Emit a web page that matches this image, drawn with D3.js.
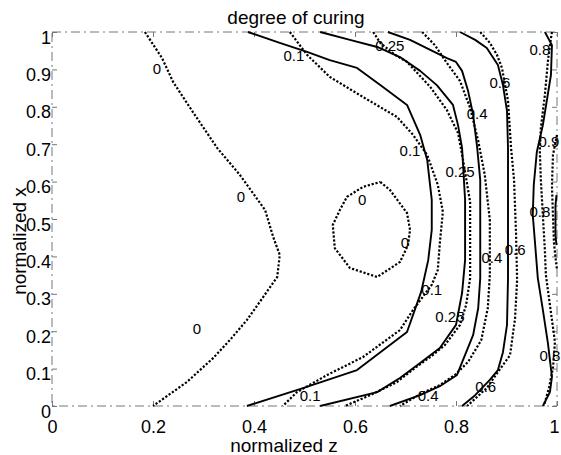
<!DOCTYPE html>
<html lang="en">
<head>
	<meta charset="UTF-8">
	<title>degree of curing</title>
	<style>
		body{margin:0;background:#fff;}
		text{font-family:"Liberation Sans",Arial,Helvetica,sans-serif;fill:#000;}
	</style>
</head>
<body>
<script src="https://cdn.jsdelivr.net/npm/d3@7/dist/d3.min.js"></script>
<script>
	// tick values
	var zTicks=[0,0.2,0.4,0.6,0.8,1];
	var xTicks=[0,0.1,0.2,0.3,0.4,0.5,0.6,0.7,0.8,0.9,1];

	// contour lines, [z, x] pairs
	// dotted = one model, solid = the other
	var dot0left=[[0.184,1.0],[0.218,0.930],[0.240,0.866],[0.279,0.786],[0.327,0.690],[0.372,0.618],[0.422,0.524],[0.438,0.452],[0.451,0.404],[0.446,0.345],[0.418,0.291],[0.386,0.230],[0.352,0.176],[0.319,0.128],[0.267,0.064],[0.200,0.0]];
	var dot0loop=[[0.650,0.599],[0.669,0.578],[0.703,0.516],[0.709,0.471],[0.705,0.430],[0.689,0.385],[0.644,0.345],[0.590,0.369],[0.560,0.422],[0.556,0.484],[0.570,0.524],[0.584,0.559],[0.616,0.586],[0.650,0.599]];
	var sol01=[[0.388,1.0],[0.451,0.971],[0.505,0.947],[0.550,0.925],[0.604,0.904],[0.650,0.858],[0.703,0.805],[0.729,0.725],[0.743,0.658],[0.752,0.551],[0.752,0.471],[0.745,0.390],[0.731,0.305],[0.703,0.198],[0.604,0.096],[0.497,0.048],[0.386,0.0]];
	var dot01=[[0.471,1.0],[0.505,0.939],[0.550,0.880],[0.616,0.826],[0.683,0.773],[0.715,0.725],[0.743,0.671],[0.764,0.591],[0.774,0.519],[0.768,0.436],[0.764,0.364],[0.752,0.324],[0.715,0.257],[0.689,0.203],[0.616,0.131],[0.545,0.083],[0.485,0.037],[0.457,0.0]];
	var sol025=[[0.531,1.0],[0.590,0.979],[0.644,0.960],[0.689,0.933],[0.729,0.896],[0.762,0.858],[0.794,0.805],[0.804,0.751],[0.812,0.690],[0.818,0.551],[0.818,0.390],[0.812,0.302],[0.800,0.217],[0.768,0.155],[0.729,0.115],[0.689,0.075],[0.644,0.037],[0.531,0.0]];
	var dot025=[[0.636,1.0],[0.650,0.971],[0.679,0.939],[0.703,0.920],[0.749,0.853],[0.782,0.791],[0.804,0.730],[0.814,0.658],[0.828,0.545],[0.828,0.342],[0.820,0.270],[0.808,0.217],[0.778,0.163],[0.754,0.136],[0.719,0.102],[0.683,0.064],[0.630,0.029],[0.580,0.0]];
	var sol04=[[0.665,1.0],[0.709,0.979],[0.782,0.930],[0.800,0.920],[0.812,0.896],[0.824,0.842],[0.834,0.778],[0.842,0.690],[0.848,0.604],[0.848,0.342],[0.844,0.262],[0.834,0.190],[0.822,0.150],[0.802,0.083],[0.768,0.053],[0.729,0.029],[0.669,0.0]];
	var dot04=[[0.733,1.0],[0.758,0.965],[0.782,0.917],[0.808,0.869],[0.828,0.797],[0.844,0.709],[0.857,0.618],[0.867,0.497],[0.867,0.350],[0.863,0.262],[0.850,0.176],[0.824,0.118],[0.798,0.083],[0.768,0.056],[0.729,0.032],[0.689,0.0]];
	var sol06=[[0.808,1.0],[0.838,0.979],[0.861,0.957],[0.883,0.912],[0.893,0.858],[0.901,0.789],[0.903,0.690],[0.903,0.342],[0.901,0.217],[0.893,0.144],[0.883,0.096],[0.867,0.070],[0.838,0.029],[0.812,0.0]];
	var dot06=[[0.848,1.0],[0.867,0.971],[0.881,0.939],[0.891,0.904],[0.903,0.816],[0.909,0.690],[0.915,0.604],[0.919,0.457],[0.921,0.337],[0.917,0.235],[0.907,0.136],[0.883,0.091],[0.861,0.048],[0.822,0.0]];
	var sol08=[[0.976,1.0],[0.990,0.965],[0.988,0.885],[0.972,0.751],[0.960,0.679],[0.954,0.591],[0.952,0.511],[0.956,0.444],[0.962,0.342],[0.972,0.257],[0.982,0.168],[0.990,0.078],[0.986,0.037],[0.972,0.0]];
	var dot08=[[0.990,1.0],[0.986,0.965],[0.982,0.922],[0.976,0.832],[0.968,0.743],[0.966,0.684],[0.968,0.604],[0.972,0.511],[0.976,0.417],[0.978,0.350],[0.986,0.270],[0.996,0.171],[0.992,0.102],[0.984,0.048],[0.974,0.0]];
	var dot09=[[1.0,0.725],[0.992,0.671],[0.990,0.591],[0.992,0.511],[0.994,0.436],[0.998,0.385],[1.0,0.364]];
	var sol09=[[0.999,0.564],[0.997,0.537],[0.997,0.457],[0.999,0.430]];

	// contour labels
	var labelText=['0','0','0','0','0','0.1','0.25','0.1','0.25','0.4','0.6','0.8','0.9','0.8','0.4','0.6','0.1','0.25','0.8','0.6','0.4','0.1'];
	var labelZ=[0.208,0.374,0.287,0.614,0.699,0.479,0.669,0.709,0.808,0.842,0.887,0.966,0.984,0.966,0.871,0.917,0.752,0.788,0.986,0.859,0.745,0.511];
	var labelX=[0.901,0.559,0.206,0.551,0.436,0.936,0.963,0.684,0.626,0.783,0.864,0.952,0.706,0.519,0.398,0.417,0.310,0.238,0.136,0.051,0.027,0.029];

	var width=561;
	var height=455;
	var padding={top:32,left:52,right:4,bottom:49};
	var plotW=width-padding.left-padding.right;
	var plotH=height-padding.top-padding.bottom;

	var svg=d3.select('body')
			.append('svg')
			.attr('width',width)
			.attr('height',height);

	var xScale=d3.scaleLinear().domain([0,1]).range([0,plotW]);
	var yScale=d3.scaleLinear().domain([0,1]).range([plotH,0]);

	var g=svg.append('g')
			.attr('transform','translate('+padding.left+','+padding.top+')');

	// frame, looks like a scanned dash-dot box
	g.append('rect')
		.attr('x',0).attr('y',0)
		.attr('width',plotW).attr('height',plotH)
		.attr('fill','none')
		.attr('stroke','#777')
		.attr('stroke-width',1)
		.attr('stroke-dasharray','9,4,2,4');

	var fmt=d3.format('~g');

	var xAxis=d3.axisBottom(xScale).tickValues(zTicks).tickFormat(fmt)
			.tickSizeInner(-5).tickSizeOuter(0).tickPadding(14);
	var yAxis=d3.axisLeft(yScale).tickValues(xTicks).tickFormat(fmt)
			.tickSizeInner(-5).tickSizeOuter(0).tickPadding(1);
	var xAxisTop=d3.axisTop(xScale).tickValues(zTicks).tickFormat('')
			.tickSizeInner(-5).tickSizeOuter(0);
	var yAxisRight=d3.axisRight(yScale).tickValues(xTicks).tickFormat('')
			.tickSizeInner(-5).tickSizeOuter(0);

	g.append('g').attr('class','xAxis')
		.attr('transform','translate(0,'+plotH+')')
		.call(xAxis);
	g.append('g').attr('class','yAxis')
		.call(yAxis);
	g.append('g').attr('class','xAxisTop')
		.call(xAxisTop);
	g.append('g').attr('class','yAxisRight')
		.attr('transform','translate('+plotW+',0)')
		.call(yAxisRight);

	g.selectAll('.domain').remove();
	g.selectAll('.tick line').attr('stroke','#777');
	g.selectAll('.xAxis text,.yAxis text')
		.attr('font-size','18px')
		.attr('fill','#000');
	g.selectAll('.yAxis text').attr('dy','0.62em');
	// last x label sits at the window edge
	g.selectAll('.xAxis .tick text')
		.filter(function(d){ return d===1; })
		.attr('dx','-3px');

	// contour lines
	var line=d3.line()
			.x(function(d){ return xScale(d[0]); })
			.y(function(d){ return yScale(d[1]); });

	var dotted=[dot0left,dot0loop,dot01,dot025,dot04,dot06,dot08,dot09];
	var solid=[sol01,sol025,sol04,sol06,sol08,sol09];

	g.selectAll('.solid')
		.data(solid)
		.enter()
		.append('path')
		.attr('class','solid')
		.attr('d',line)
		.attr('fill','none')
		.attr('stroke','#000')
		.attr('stroke-width',1.9)
		.attr('stroke-linejoin','round');

	g.selectAll('.dotted')
		.data(dotted)
		.enter()
		.append('path')
		.attr('class','dotted')
		.attr('d',line)
		.attr('fill','none')
		.attr('stroke','#000')
		.attr('stroke-width',2.2)
		.attr('stroke-dasharray','2.2,1.8');

	g.selectAll('.clabel')
		.data(labelText)
		.enter()
		.append('text')
		.attr('class','clabel')
		.attr('font-size','15px')
		.attr('text-anchor','middle')
		.attr('x',function(d,i){ return xScale(labelZ[i]); })
		.attr('y',function(d,i){ return yScale(labelX[i]); })
		.attr('dy','0.36em')
		.text(function(d){ return d; });

	// titles
	svg.append('text')
		.attr('x',296).attr('y',24)
		.attr('text-anchor','middle')
		.attr('font-size','19px')
		.text('degree of curing');
	svg.append('text')
		.attr('x',284).attr('y',452)
		.attr('text-anchor','middle')
		.attr('font-size','19px')
		.text('normalized z');
	svg.append('text')
		.attr('transform','translate(26,241) rotate(-90)')
		.attr('text-anchor','middle')
		.attr('font-size','19px')
		.text('normalized x');
</script>
</body>
</html>
